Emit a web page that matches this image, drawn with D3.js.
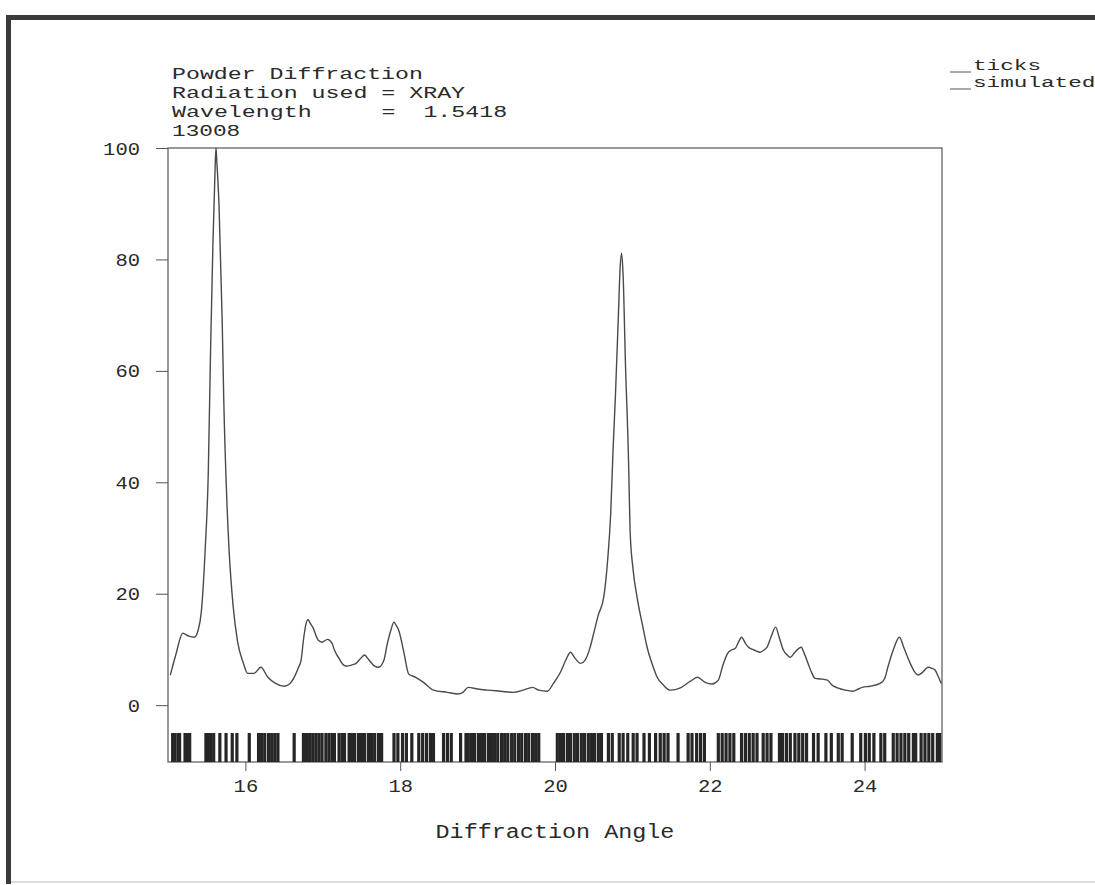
<!DOCTYPE html>
<html>
<head>
<meta charset="utf-8">
<script src="https://cdn.jsdelivr.net/npm/d3@7"></script>
<style>
    html, body { margin: 0; padding: 0; background: #fff; overflow: hidden; }
    svg text { font-family: 'Liberation Mono', 'Courier New', monospace; fill: #2a2a2a; white-space: pre; }
</style>
</head>
<body>
<svg></svg>
<script>
/**
 * Data.
 */
const titleLines = [
    'Powder Diffraction',
    'Radiation used = XRAY',
    'Wavelength     =  1.5418',
    '13008'
];
const legendNames = ['ticks', 'simulated'];
const xTicks = [16, 18, 20, 22, 24];
const yTicks = [0, 20, 40, 60, 80, 100];

// simulated pattern: diffraction angle / intensity
const angle = [
    15.03, 15.10, 15.19, 15.27, 15.34, 15.39, 15.43, 15.48, 15.52, 15.55,
    15.58, 15.61, 15.62, 15.63, 15.66, 15.70, 15.72, 15.76, 15.79, 15.84,
    15.90, 15.97, 16.03, 16.11, 16.20, 16.29, 16.39, 16.50, 16.57, 16.63,
    16.68, 16.72, 16.75, 16.78, 16.81, 16.83, 16.87, 16.94, 16.99, 17.06,
    17.12, 17.15, 17.21, 17.27, 17.32, 17.37, 17.43, 17.49, 17.54, 17.58,
    17.62, 17.67, 17.72, 17.79, 17.83, 17.88, 17.92, 17.94, 17.98, 18.05,
    18.11, 18.20, 18.30, 18.43, 18.61, 18.75, 18.81, 18.88, 19.00, 19.13,
    19.30, 19.46, 19.59, 19.71, 19.79, 19.90, 19.98, 20.07, 20.14, 20.20,
    20.26, 20.33, 20.39, 20.45, 20.50, 20.56, 20.63, 20.68, 20.72, 20.75,
    20.78, 20.82, 20.84, 20.86, 20.88, 20.91, 20.95, 20.97, 21.01, 21.06,
    21.13, 21.19, 21.26, 21.32, 21.40, 21.49, 21.62, 21.75, 21.84, 21.94,
    22.03, 22.11, 22.17, 22.23, 22.28, 22.33, 22.37, 22.41, 22.46, 22.50,
    22.57, 22.65, 22.70, 22.74, 22.79, 22.85, 22.90, 22.95, 23.00, 23.04,
    23.10, 23.18, 23.22, 23.27, 23.32, 23.36, 23.43, 23.52, 23.58, 23.65,
    23.75, 23.85, 23.92, 23.97, 24.07, 24.20, 24.26, 24.30, 24.37, 24.45,
    24.51, 24.59, 24.64, 24.69, 24.75, 24.82, 24.87, 24.91, 24.95, 24.99
];
const intensity = [
    5.4, 9.0, 12.9, 12.4, 12.2, 13.5, 16.7, 27.8, 41.5, 63.7,
    82.6, 97.0, 100, 97.8, 89.4, 69.0, 55.1, 36.8, 27.6, 18.0,
    11.3, 7.7, 5.7, 5.7, 6.8, 5.0, 3.9, 3.4, 3.8, 5.0,
    6.6, 8.1, 11.7, 14.4, 15.4, 14.9, 14.0, 11.7, 11.3, 11.8,
    11.1, 9.9, 8.4, 7.2, 7.0, 7.2, 7.5, 8.4, 9.0, 8.4,
    7.7, 7.0, 6.8, 8.1, 10.8, 13.5, 14.9, 14.5, 13.5, 9.3,
    5.6, 5.0, 4.1, 2.7, 2.3, 2.0, 2.3, 3.2, 2.9, 2.7,
    2.5, 2.3, 2.7, 3.2, 2.7, 2.5, 3.9, 5.9, 8.1, 9.5,
    8.4, 7.5, 8.1, 10.2, 12.9, 16.2, 19.4, 26.0, 34.5, 45.8,
    55.3, 70.4, 78.1, 81.1, 77.2, 61.4, 44.0, 31.4, 24.2, 19.4,
    14.4, 10.4, 7.2, 5.0, 3.6, 2.7, 3.1, 4.3, 5.0, 4.1,
    3.8, 4.5, 7.2, 9.3, 9.9, 10.2, 11.3, 12.2, 11.1, 10.4,
    9.9, 9.5, 9.9, 10.4, 12.2, 14.0, 12.0, 9.9, 9.0, 8.6,
    9.5, 10.4, 9.3, 7.5, 5.7, 4.8, 4.7, 4.5, 3.6, 3.1,
    2.7, 2.5, 2.9, 3.2, 3.4, 3.9, 4.8, 6.8, 9.9, 12.2,
    10.2, 7.5, 6.1, 5.4, 5.9, 6.8, 6.6, 6.3, 5.2, 3.9
];

// reflection positions drawn as the tick strip
const reflections = [
    15.06, 15.09, 15.13, 15.15, 15.22, 15.25, 15.28,
    15.49, 15.52, 15.55, 15.59, 15.67, 15.75, 15.83, 15.89, 16.05,
    16.17, 16.21, 16.25, 16.30, 16.34, 16.38, 16.42, 16.63,
    16.75, 16.79, 16.83, 16.87, 16.91, 16.95, 16.99, 17.04, 17.08, 17.12,
    17.15, 17.21, 17.25, 17.28, 17.34, 17.37, 17.41, 17.46, 17.50, 17.54,
    17.59, 17.63, 17.67, 17.72, 17.76,
    17.92, 17.97, 18.03, 18.08, 18.15, 18.24, 18.29, 18.34, 18.39, 18.43,
    18.56, 18.61, 18.66, 18.78, 18.85,
    18.88, 18.92, 18.96, 19.01, 19.05, 19.09, 19.14, 19.18, 19.22, 19.26,
    19.31, 19.35, 19.39, 19.44, 19.48, 19.53, 19.57, 19.62, 19.66, 19.71,
    19.75, 19.79,
    20.03, 20.07, 20.11, 20.16, 20.20, 20.25, 20.29, 20.34, 20.38, 20.43,
    20.47, 20.51, 20.56, 20.60, 20.69, 20.74, 20.83, 20.88, 20.94, 21.01,
    21.06, 21.15, 21.22, 21.30, 21.36, 21.41, 21.46, 21.59,
    21.72, 21.77, 21.83, 21.88, 21.93, 22.11, 22.16, 22.21, 22.26, 22.31,
    22.41, 22.46, 22.51, 22.56, 22.61, 22.69, 22.74, 22.79,
    22.90, 22.94, 22.99, 23.04, 23.10, 23.15, 23.20, 23.25, 23.34, 23.40,
    23.50, 23.57, 23.66, 23.71, 23.84, 23.95, 24.01, 24.06, 24.12, 24.21,
    24.26, 24.37, 24.42, 24.47, 24.52, 24.57, 24.63, 24.66, 24.73, 24.78,
    24.83, 24.88, 24.94, 24.97
];

/**
 * Set stuff up.
 */
const width = 1095;
const height = 885;
const svg = d3
    .select('svg')
    .attr('width', width)
    .attr('height', height)
    .attr('viewBox', `0 0 ${width} ${height}`);

const plot = { left: 168, right: 942, top: 148, bottom: 762 };
const ink = '#555';
const charW = 14.05; // width of one character cell in the reference

const x = d3.scaleLinear().domain([15, 25]).range([plot.left, plot.right]);
const y = d3.scaleLinear().domain([-10.2, 100]).range([plot.bottom, plot.top]);

/**
 * Outer frame of the scanned page.
 */
svg.append('rect')
    .attr('x', 8).attr('y', 17)
    .attr('width', width).attr('height', 865)
    .attr('fill', 'none')
    .attr('stroke', '#bbb')
    .attr('stroke-width', 1);
svg.append('line')
    .attr('x1', 6).attr('x2', width).attr('y1', 17.5).attr('y2', 17.5)
    .attr('stroke', '#3a3a3a').attr('stroke-width', 5);
svg.append('line')
    .attr('x1', 8.5).attr('x2', 8.5).attr('y1', 15).attr('y2', 884)
    .attr('stroke', '#3a3a3a').attr('stroke-width', 5);

/**
 * Title block (squat glyphs stretched to the reference's wide cells).
 */
svg.append('g')
    .selectAll('text')
    .data(titleLines)
    .enter()
    .append('text')
    .attr('x', 172)
    .attr('y', (d, i) => 79 + i * 19)
    .attr('font-size', 16.5)
    .attr('textLength', d => d.length * charW - 2)
    .attr('lengthAdjust', 'spacingAndGlyphs')
    .text(d => d);

/**
 * Legend.
 */
const legend = svg.append('g')
    .selectAll('g')
    .data(legendNames)
    .enter()
    .append('g')
    .attr('transform', (d, i) => `translate(950, ${72 + i * 17})`);
legend.append('line')
    .attr('x1', 0).attr('x2', 21)
    .attr('stroke', ink).attr('stroke-width', 1);
legend.append('text')
    .attr('x', 23)
    .attr('y', -2)
    .attr('font-size', 14.5)
    .attr('textLength', d => d.length * 13.6)
    .attr('lengthAdjust', 'spacingAndGlyphs')
    .text(d => d);

/**
 * Axes.
 */
const yAxis = svg.append('g')
    .attr('transform', `translate(${plot.left}, 0)`)
    .call(d3.axisLeft(y).tickValues(yTicks).tickSize(12).tickPadding(16).tickFormat(d3.format('d')));

const xAxis = svg.append('g')
    .attr('transform', `translate(0, ${plot.bottom})`)
    .call(d3.axisBottom(x).tickValues(xTicks).tickSize(9).tickPadding(8).tickFormat(d3.format('d')));

[yAxis, xAxis].forEach(function (a) {
    a.select('.domain').remove();
    a.selectAll('line').attr('stroke', ink);
    a.selectAll('text')
        .attr('fill', '#2a2a2a')
        .attr('font-size', 19)
        .attr('font-family', "'Liberation Mono', monospace")
        .attr('textLength', function () { return this.textContent.length * 12.3; })
        .attr('lengthAdjust', 'spacingAndGlyphs');
});

// box round the plot
svg.append('rect')
    .attr('x', plot.left).attr('y', plot.top)
    .attr('width', plot.right - plot.left).attr('height', plot.bottom - plot.top)
    .attr('fill', 'none')
    .attr('stroke', ink)
    .attr('stroke-width', 1.2);

svg.append('text')
    .attr('x', 555)
    .attr('y', 838)
    .attr('text-anchor', 'middle')
    .attr('font-size', 20)
    .attr('textLength', 17 * charW)
    .attr('lengthAdjust', 'spacingAndGlyphs')
    .text('Diffraction Angle');

/**
 * Reflection ticks.
 */
svg.append('g')
    .selectAll('line')
    .data(reflections)
    .enter()
    .append('line')
    .attr('x1', d => x(d)).attr('x2', d => x(d))
    .attr('y1', y(-5)).attr('y2', y(-10.2))
    .attr('stroke', '#262626')
    .attr('stroke-width', 3.2);

/**
 * Simulated pattern.
 */
const points = angle.map((a, i) => [a, intensity[i]]);
const line = d3.line()
    .x(d => x(d[0]))
    .y(d => y(d[1]))
    .curve(d3.curveMonotoneX);

svg.append('path')
    .datum(points)
    .attr('d', line)
    .attr('fill', 'none')
    .attr('stroke', '#4a4a4a')
    .attr('stroke-width', 1.4);
</script>
</body>
</html>
